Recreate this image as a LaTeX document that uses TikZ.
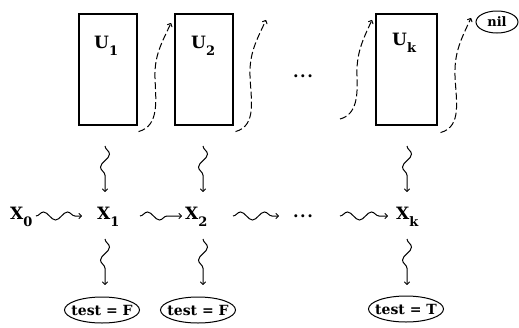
\documentclass[tikz,border=0pt]{standalone}
\usepackage{fontspec}
\setmainfont{DejaVu Serif}
\usetikzlibrary{decorations.pathmorphing,arrows.meta,shapes.geometric}
\newcommand\subx[1]{\raisebox{-7pt}{\fontsize{13}{13}\selectfont #1}}
\newcommand\mydots{.\kern1.5pt.\kern1.5pt.}
\begin{document}
\begin{tikzpicture}[x=1pt,y=-1pt,
  ubox/.style={draw,line width=1.1pt,minimum width=58pt,minimum height=111pt,inner sep=0pt},
  ulab/.style={font=\fontsize{17}{18}\selectfont\bfseries,inner sep=0pt,anchor=base west},
  xlab/.style={font=\fontsize{17}{18}\selectfont\bfseries,inner sep=0pt,anchor=base west},
  test/.style={draw,ellipse,line width=1pt,minimum width=75pt,minimum height=26pt,inner xsep=-12pt,inner ysep=0pt,font=\fontsize{14}{15}\selectfont\bfseries},
  vwavy/.style={line width=1pt,-{To[length=3.5pt,width=6pt]},decorate,decoration={snake,amplitude=4.5pt,segment length=26pt,post length=4pt}},
  hwavy/.style={line width=1pt,-{To[length=3.5pt,width=6pt]},decorate,decoration={snake,amplitude=4pt,segment length=24pt,post length=4pt}},
  dsh/.style={line width=1pt,dash pattern=on 7pt off 3pt,-{To[length=3.5pt,width=6pt]}},
  dots/.style={font=\fontsize{16}{18}\selectfont\bfseries,inner sep=0pt}
]
\useasboundingbox (0,0) rectangle (519,327);
% boxes
\node[ubox] (b1) at (108,69.5) {};
\node[ubox] (b2) at (204,69.5) {};
\node[ubox,minimum width=61pt] (bk) at (406.5,69.5) {};
\node[ulab] (u1) at (94,48) {U\subx{1}};
\node[ulab] (u2) at (191,48) {U\subx{2}};
\node[ulab] (uk) at (392,45) {U\subx{k}};
\node[dots,anchor=base] (d1) at (303,77) {\mydots};
% nil
\node[draw,ellipse,line width=1pt,minimum width=42pt,minimum height=22pt,inner sep=0pt,font=\fontsize{13}{14}\selectfont\bfseries] (nil) at (497,22) {nil};
% dashed arrows
\coordinate (e1) at (171,23);
\coordinate (e2) at (266,20);
\coordinate (s3) at (340,119);
\coordinate (e3) at (372,20);
\coordinate (e4) at (471,18);
\draw[dsh] ([xshift=1pt,yshift=-6pt]b1.south east) to[out=15,in=-88] (155,78) to[out=92,in=-115] (e1);
\draw[dsh] ([xshift=2pt,yshift=-6pt]b2.south east) to[out=15,in=-88] (250,76) to[out=92,in=-115] (e2);
\draw[dsh] (s3) to[out=15,in=-88] (357,76) to[out=92,in=-115] (e3);
\draw[dsh] ([xshift=3pt,yshift=-7pt]bk.south east) to[out=15,in=-88] (455,76) to[out=92,in=-115] (e4);
% X nodes
\node[xlab] (x0) at (10,219) {X\subx{0}};
\node[xlab] (x1) at (97,219) {X\subx{1}};
\node[xlab] (x2) at (185,219) {X\subx{2}};
\node[dots,anchor=base] (d2) at (303,217) {\mydots};
\node[xlab] (xk) at (396,219) {X\subx{k}};
% vertical coordinates
\coordinate (v1a) at (105,146); \coordinate (v1b) at (105,192);
\coordinate (v2a) at (203,146); \coordinate (v2b) at (203,192);
\coordinate (vka) at (407,146); \coordinate (vkb) at (407,192);
\coordinate (w1a) at (105,239); \coordinate (w1b) at (105,285);
\coordinate (w2a) at (203,239); \coordinate (w2b) at (203,285);
\coordinate (wka) at (407,239); \coordinate (wkb) at (407,285);
\draw[vwavy] (v1a) -- (v1b);
\draw[vwavy] (v2a) -- (v2b);
\draw[vwavy] (vka) -- (vkb);
\draw[vwavy] (w1a) -- (w1b);
\draw[vwavy] (w2a) -- (w2b);
\draw[vwavy] (wka) -- (wkb);
% horizontal
\coordinate (h1a) at (36,216); \coordinate (h1b) at (82,216);
\coordinate (h2a) at (140,216); \coordinate (h2b) at (182,216);
\coordinate (h3a) at (233,216); \coordinate (h3b) at (279,216);
\coordinate (h4a) at (340,216); \coordinate (h4b) at (388,216);
\draw[hwavy] (h1a) -- (h1b);
\draw[hwavy] (h2a) -- (h2b);
\draw[hwavy] (h3a) -- (h3b);
\draw[hwavy] (h4a) -- (h4b);
% tests
\node[test] (t1) at (102,310) {test = F};
\node[test] (t2) at (198,310) {test = F};
\node[test] (tk) at (406,309) {test = T};
\end{tikzpicture}
\end{document}
